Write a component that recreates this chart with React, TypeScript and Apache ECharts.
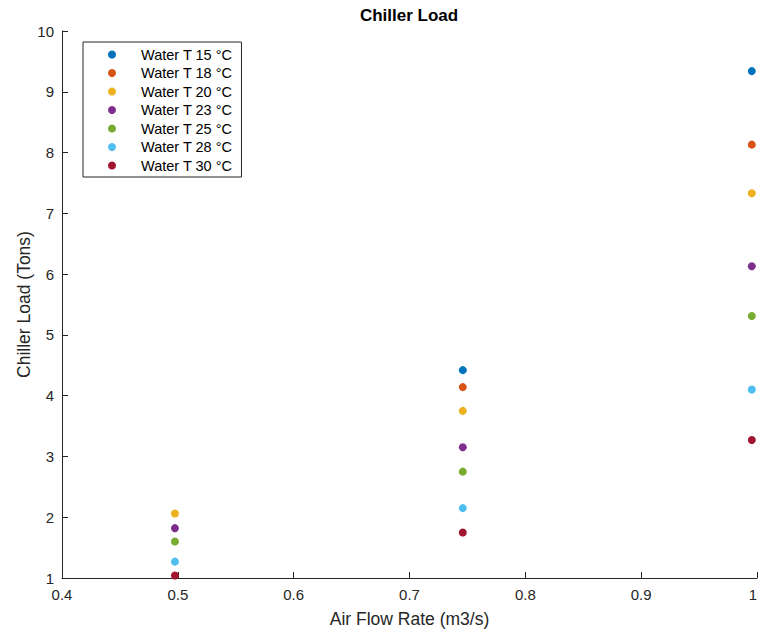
import React, { useEffect, useRef } from "react";
import * as echarts from "echarts";

const airFlow = [0.4975, 0.746, 0.9955];
const seriesNames = [
  "Water T 15 °C",
  "Water T 18 °C",
  "Water T 20 °C",
  "Water T 23 °C",
  "Water T 25 °C",
  "Water T 28 °C",
  "Water T 30 °C",
];
const t15: (number | null)[] = [null, 4.42, 9.34];
const t18: (number | null)[] = [null, 4.14, 8.13];
const t20: (number | null)[] = [2.06, 3.75, 7.33];
const t23: (number | null)[] = [1.82, 3.15, 6.13];
const t25: (number | null)[] = [1.6, 2.75, 5.31];
const t28: (number | null)[] = [1.27, 2.15, 4.1];
const t30: (number | null)[] = [1.04, 1.75, 3.27];
const seriesValues = [t15, t18, t20, t23, t25, t28, t30];
const colors = ["#0072BD", "#D95319", "#EDB120", "#7E2F8E", "#77AC30", "#4DBEEE", "#A2142F"];

const FONT = "'Liberation Sans', Arial, Helvetica, sans-serif";
const AX = "#262626";

export default function App() {
  const ref = useRef<HTMLDivElement>(null);
  useEffect(() => {
    if (!ref.current) return;
    const chart = echarts.init(ref.current, null, { renderer: "svg" });
    const series = seriesNames.map((name, i) => ({
      name,
      type: "scatter",
      symbol: "circle",
      symbolSize: 8,
      itemStyle: { color: colors[i], opacity: 1 },
      data: airFlow
        .map((x, j) => [x, seriesValues[i][j]])
        .filter((p) => p[1] !== null),
    }));
    chart.setOption({
      animation: false,
      backgroundColor: "#ffffff",
      textStyle: { fontFamily: FONT },
      title: {
        text: "Chiller Load",
        left: 409,
        textAlign: "center",
        top: 7,
        padding: 0,
        textStyle: { fontFamily: FONT, fontSize: 17, fontWeight: "bold", color: "#000" },
      },
      legend: {
        orient: "vertical",
        left: 83,
        top: 42,
        padding: [5, 9, 4, 25],
        itemGap: 3.5,
        itemWidth: 8,
        itemHeight: 8,
        icon: "circle",
        borderColor: "#262626",
        borderWidth: 1,
        backgroundColor: "#fff",
        textStyle: {
          fontFamily: FONT,
          fontSize: 14.5,
          color: "#000",
          lineHeight: 14,
          padding: [0, 0, 0, 20],
        },
        data: seriesNames,
      },
      grid: {
        left: 62,
        right: 2,
        top: 31,
        bottom: 55,
        containLabel: false,
        outerBoundsMode: "none",
      },
      xAxis: {
        type: "value",
        min: 0.4,
        max: 1,
        interval: 0.1,
        name: "Air Flow Rate (m3/s)",
        nameLocation: "middle",
        nameGap: 32,
        nameMoveOverlap: false,
        nameTextStyle: { fontFamily: FONT, fontSize: 17.5, color: AX },
        axisLine: { show: true, onZero: false, lineStyle: { color: AX, width: 1 } },
        axisTick: { show: true, inside: true, length: 6, lineStyle: { color: AX } },
        axisLabel: {
          fontFamily: FONT,
          fontSize: 15,
          color: AX,
          margin: 9,
          alignMaxLabel: "right",
          formatter: (v: number) => String(Math.round(v * 10) / 10),
        },
        splitLine: { show: false },
      },
      yAxis: {
        type: "value",
        min: 1,
        max: 10,
        interval: 1,
        name: "Chiller Load (Tons)",
        nameLocation: "middle",
        nameGap: 29,
        nameMoveOverlap: false,
        nameTextStyle: { fontFamily: FONT, fontSize: 17.5, color: AX },
        axisLine: { show: true, onZero: false, lineStyle: { color: AX, width: 1 } },
        axisTick: { show: true, inside: true, length: 6, lineStyle: { color: AX } },
        axisLabel: { fontFamily: FONT, fontSize: 15, color: AX, margin: 8 },
        splitLine: { show: false },
      },
      series,
    });
    return () => chart.dispose();
  }, []);
  return <div ref={ref} style={{ width: 759, height: 633, position: "absolute", left: 0, top: 0 }} />;
}
